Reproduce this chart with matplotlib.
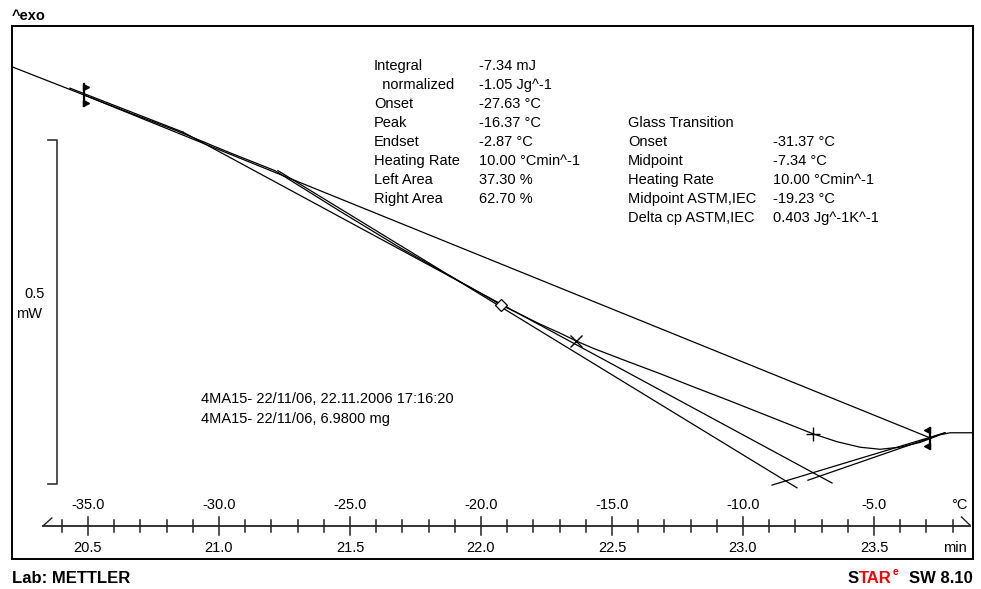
import numpy as np
import matplotlib
matplotlib.use("Agg")
import matplotlib.pyplot as plt
from matplotlib.transforms import Affine2D, blended_transform_factory

plt.rcParams['font.family'] = ['Liberation Sans', 'DejaVu Sans']

# ---------------- data (temperature in °C, heat flow in mW) ----------------
curve_T = [-37.90, -35.15, -33.40, -31.68, -29.58, -27.86, -25.38, -23.09, -21.18,
           -19.24, -17.75, -16.99, -16.34, -15.73, -14.43, -13.17, -11.91, -10.61,
           -9.35, -8.09, -7.29, -6.41, -5.53, -4.77, -4.01, -3.24, -2.82, -2.48,
           -2.10, -1.72, -1.22]
curve_mW = [0.339, 0.298, 0.272, 0.247, 0.214, 0.188, 0.129, 0.076, 0.035,
            -0.007, -0.035, -0.048, -0.060, -0.070, -0.089, -0.107, -0.126, -0.145,
            -0.164, -0.183, -0.195, -0.206, -0.214, -0.217, -0.214, -0.207, -0.201, -0.196,
            -0.193, -0.193, -0.193]

baseline_T = [-35.15, -2.82]
baseline_mW = [0.298, -0.201]
left_tan_T = [-35.69, -31.37]
left_tan_mW = [0.308, 0.244]
infl_tan_T = [-31.37, -6.60]
infl_tan_mW = [0.244, -0.266]
onset_tan_T = [-27.75, -7.94]
onset_tan_mW = [0.188, -0.273]
right_tan1_T = [-2.29, -8.89]
right_tan1_mW = [-0.193, -0.269]
right_tan2_T = [-2.29, -7.52]
right_tan2_mW = [-0.193, -0.262]

peak_T, peak_mW = -16.37, -0.060
mid_astm_T, mid_astm_mW = -19.23, -0.007
midpoint_T, midpoint_mW = -7.34, -0.195
start_T, start_mW = -35.15, 0.298
end_T, end_mW = -2.87, -0.201

temp_ticks = [-35.0, -30.0, -25.0, -20.0, -15.0, -10.0, -5.0]
temp_labels = ['-35.0', '-30.0', '-25.0', '-20.0', '-15.0', '-10.0', '-5.0']
time_labels = ['20.5', '21.0', '21.5', '22.0', '22.5', '23.0', '23.5']
minor_ticks = [t for t in range(-36, -1) if t % 5 != 0]

res1_labels = ['Integral', '  normalized', 'Onset', 'Peak', 'Endset',
               'Heating Rate', 'Left Area', 'Right Area']
res1_values = ['-7.34 mJ', '-1.05 Jg^-1', '-27.63 °C', '-16.37 °C', '-2.87 °C',
               '10.00 °Cmin^-1', '37.30 %', '62.70 %']
res2_labels = ['Glass Transition', 'Onset', 'Midpoint', 'Heating Rate',
               'Midpoint ASTM,IEC', 'Delta cp ASTM,IEC']
res2_values = ['', '-31.37 °C', '-7.34 °C', '10.00 °Cmin^-1', '-19.23 °C',
               '0.403 Jg^-1K^-1']
sample_lines = ['4MA15- 22/11/06, 22.11.2006 17:16:20',
                '4MA15- 22/11/06, 6.9800 mg']

# ---------------- figure ----------------
W, H = 981, 589
fig = plt.figure(figsize=(W / 100, H / 100), dpi=100)
PX = Affine2D().scale(1.0 / W, -1.0 / H).translate(0, 1) + fig.transFigure

ax = fig.add_axes([12 / W, 1 - 559 / H, 961 / W, 533 / H])
ax.set_xlim(-37.90, -1.22)
ax.set_ylim(-0.3765, 0.3983)
ax.set_xticks([])
ax.set_yticks([])
for s in ax.spines.values():
    s.set_linewidth(1.4)
    s.set_color('black')

lw = 0.9
ax.plot(curve_T, curve_mW, color='black', lw=lw)
for tx, ty in [(baseline_T, baseline_mW), (left_tan_T, left_tan_mW),
               (infl_tan_T, infl_tan_mW), (onset_tan_T, onset_tan_mW),
               (right_tan1_T, right_tan1_mW), (right_tan2_T, right_tan2_mW)]:
    ax.plot(tx, ty, color='black', lw=lw)

# markers
ax.plot([mid_astm_T], [mid_astm_mW], marker='D', ms=6, mfc='white', mec='black', mew=0.9)
ax.plot([peak_T], [peak_mW], marker='x', ms=9, mec='black', mew=1.0)
ax.plot([midpoint_T], [midpoint_mW], marker='+', ms=10, mec='black', mew=1.0)

def limit_marker(T, y, direction):
    h = 0.0155
    ax.plot([T, T], [y - h, y + h], color='black', lw=1.6)
    m = '>' if direction > 0 else '<'
    off = 0.09 * direction
    ax.plot([T + off, T + off], [y + h - 0.004, y - h + 0.004], ls='none',
            marker=m, ms=4.5, color='black')

limit_marker(start_T, start_mW, 1)
limit_marker(end_T, end_mW, -1)

# ---------------- temperature / time axis ----------------
bt = blended_transform_factory(ax.transData, PX)
axis_col = '#222222'
ax.plot([-36.72, -1.34], [526, 526], color=axis_col, lw=1.3, transform=bt, clip_on=False)
for t in temp_ticks:
    ax.plot([t, t], [517, 535], color=axis_col, lw=1.1, transform=bt, clip_on=False)
for t in minor_ticks:
    ax.plot([t, t], [520, 532], color=axis_col, lw=1.1, transform=bt, clip_on=False)
ax.plot([-36.72, -36.38], [526, 518], color=axis_col, lw=1.0, transform=bt, clip_on=False)
ax.plot([-1.66, -1.34], [517, 525], color=axis_col, lw=1.0, transform=bt, clip_on=False)

fs = 10.5
for t, lt, lm in zip(temp_ticks, temp_labels, time_labels):
    ax.text(t, 509, lt, transform=bt, ha='center', va='baseline', fontsize=fs)
    ax.text(t, 552, lm, transform=bt, ha='center', va='baseline', fontsize=fs)
fig.text(967 / W, 1 - 509 / H, '°C', ha='right', va='baseline', fontsize=fs)
fig.text(967 / W, 1 - 552 / H, 'min', ha='right', va='baseline', fontsize=fs)

# ---------------- scale bar ----------------
bs = blended_transform_factory(PX, ax.transData)
top = 0.2326
bar = 0.5
ax.plot([48, 57, 57, 48], [top, top, top - bar, top - bar], color='#333333',
        lw=1.2, transform=bs, clip_on=False)
fig.text(35 / W, 1 - 298 / H, '0.5', ha='center', va='baseline', fontsize=fs)
fig.text(29 / W, 1 - 318 / H, 'mW', ha='center', va='baseline', fontsize=fs)

# ---------------- texts ----------------
def ptext(x, y, s, **kw):
    return fig.text(x / W, 1 - y / H, s, va='baseline', **kw)

ptext(12, 20, '^exo', fontsize=10.5, fontweight='bold')

y0 = 70
for i, (l, v) in enumerate(zip(res1_labels, res1_values)):
    ptext(374, y0 + 19 * i, l, fontsize=fs)
    ptext(479, y0 + 19 * i, v, fontsize=fs)
y1 = 127
for i, (l, v) in enumerate(zip(res2_labels, res2_values)):
    ptext(628, y1 + 19 * i, l, fontsize=fs)
    ptext(773, y1 + 19 * i, v, fontsize=fs)
for i, s in enumerate(sample_lines):
    ptext(201, 403 + 20 * i, s, fontsize=fs)

ptext(12, 583, 'Lab: METTLER', fontsize=12, fontweight='bold')

# STARe SW 8.10 footer
fig.canvas.draw()
r = fig.canvas.get_renderer()
t1 = ptext(848, 583, 'S', fontsize=12, fontweight='bold', color='black')
x = t1.get_window_extent(r).x1
t2 = fig.text(x / W, 1 - 583 / H, 'TAR', va='baseline', fontsize=12, fontweight='bold', color='#ff0000')
x = t2.get_window_extent(r).x1 + 0.5
t3 = fig.text(x / W, 1 - 575 / H, 'e', va='baseline', fontsize=7.5, fontweight='bold', color='#ff0000')
ptext(973, 583, 'SW 8.10', fontsize=12, fontweight='bold', ha='right')

fig.savefig('out.png', dpi=100)
